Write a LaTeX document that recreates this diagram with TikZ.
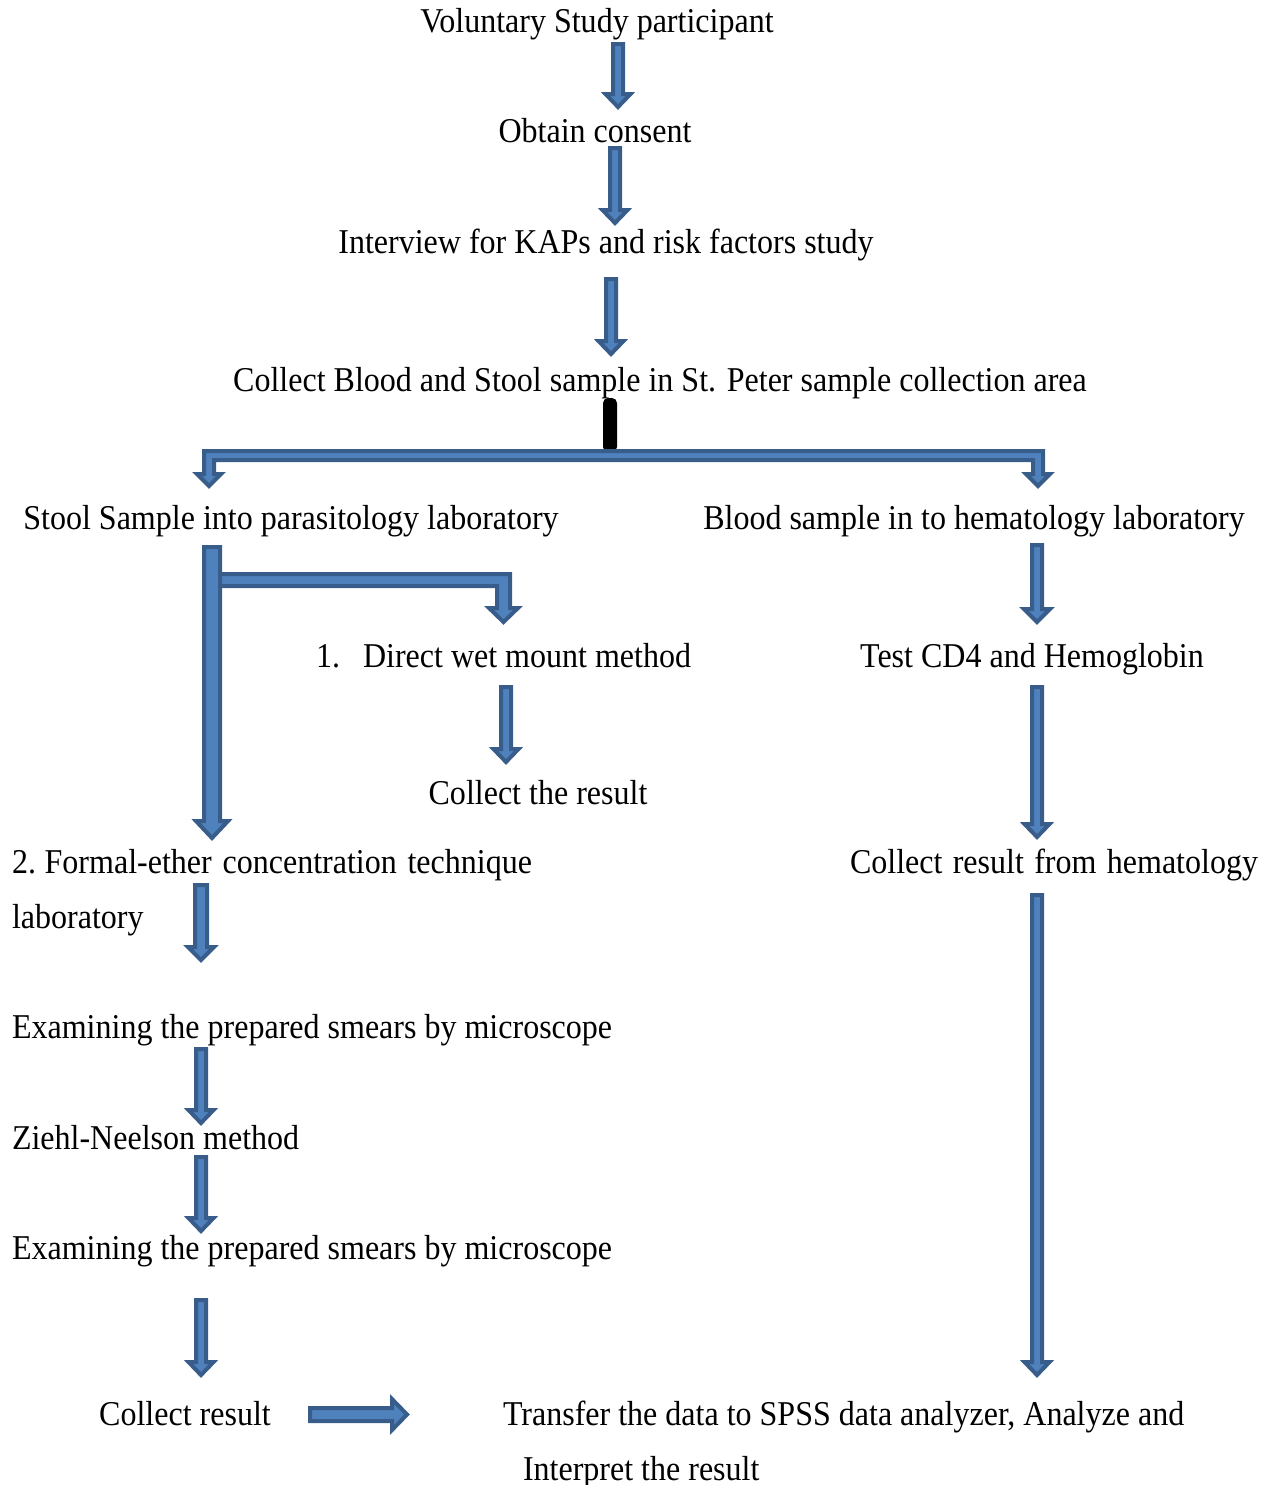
\documentclass[tikz,border=0pt]{standalone}
\usepackage{fontspec}
\setmainfont[FakeStretch=0.92]{Liberation Serif}
\definecolor{arrfill}{HTML}{4F81BD}
\definecolor{arrline}{HTML}{385D8A}
\tikzset{
  txt/.style={inner sep=0pt, outer sep=0pt, font=\fontsize{17.4}{20}\selectfont, anchor=base},
  ltxt/.style={txt, anchor=base west},
  blk/.style={fill=arrfill, draw=arrline, line width=2pt, line join=miter},
}
% down block arrow: x-centre, top, tip, half shaft, half head, head length
\newcommand\darr[6]{%
  \filldraw[blk] ({#1-#4+2},{#2+2}) -- ({#1+#4-2},{#2+2}) -- ({#1+#4-2},{#3-#6}) -- ({#1+#5-3},{#3-#6}) -- (#1,{#3-3}) -- ({#1-#5+3},{#3-#6}) -- ({#1-#4+2},{#3-#6}) -- cycle;}
\begin{document}
\begin{tikzpicture}[x=0.5pt,y=-0.5pt]
\useasboundingbox (0,0) rectangle (1270,1485);
% texts
\node[txt] (vol) at (597,32) {Voluntary Study participant};
\node[txt] (cons) at (595,142) {Obtain consent};
\node[txt] (int) at (606,253) {Interview for KAPs and risk factors study};
\node[txt] (coll) at (660,391) {Collect Blood and Stool sample in St. Peter sample collection area};
\node[txt] (stool) at (291,529) {Stool Sample into parasitology laboratory};
\node[txt] (blood) at (974,529) {Blood sample in to hematology laboratory};
\node[ltxt] (wet) at (316,667) {\makebox[23.5pt][l]{1.}Direct wet mount method};
\node[txt] (cd4) at (1032,667) {Test CD4 and Hemoglobin};
\node[txt] (cres) at (538,804) {Collect the result};
\node[ltxt] (form) at (12,873) {\makebox[260pt][s]{2.\kern0.25em Formal-ether concentration technique}};
\node[ltxt] (lab) at (12,928) {laboratory};
\node[ltxt] (hem) at (850,873) {\makebox[204pt][s]{Collect result from hematology}};
\node[ltxt] (exa1) at (12,1038) {Examining the prepared smears by microscope};
\node[ltxt] (ziehl) at (12,1149) {Ziehl-Neelson method};
\node[ltxt] (exa2) at (12,1259) {Examining the prepared smears by microscope};
\node[txt] (res) at (185,1425) {Collect result};
\node[ltxt] (spss) at (503,1425) {Transfer the data to SPSS data analyzer, Analyze and};
\node[ltxt] (interp) at (523,1480) {Interpret the result};
% simple down arrows
\darr{618}{42}{110}{7}{15.5}{16}
\darr{615}{146}{226}{7}{15.5}{16}
\darr{611}{277}{357}{7}{15.5}{16}
\darr{1037}{543}{625}{7}{16}{16}
\darr{506}{685}{765}{7}{15.5}{16}
\darr{1037}{685}{840}{7}{15.5}{16}
\darr{201}{883}{963}{8}{16}{16}
\darr{1037}{893}{1378}{7}{15.5}{16}
\darr{201}{1047}{1126}{7}{15.5}{16}
\darr{201}{1155}{1234}{7}{15.5}{16}
\darr{201}{1298}{1378}{7}{15.5}{16}
% black connector bar
\fill[black, rounded corners=2.5] (603,398) rectangle (617,452);
% T-branch arrow
\filldraw[blk] (204,451) -- (1043,451) -- (1043,474) -- (1050,474) -- (1038,486) -- (1026,474) -- (1033,474) -- (1033,460) -- (214,460) -- (214,474) -- (221,474) -- (209,486) -- (197,474) -- (204,474) -- cycle;
% bent branch to direct wet mount
\filldraw[blk] (215,574) -- (510,574) -- (510,608) -- (518,608) -- (503.5,622) -- (489,608) -- (497,608) -- (497,586) -- (215,586) -- cycle;
% big left down arrow
\darr{212}{545}{841}{10}{19}{20}
% right arrow
\filldraw[blk] (310,1408) -- (392,1408) -- (392,1399) -- (407,1414.5) -- (392,1430) -- (392,1421) -- (310,1421) -- cycle;
\end{tikzpicture}
\end{document}
